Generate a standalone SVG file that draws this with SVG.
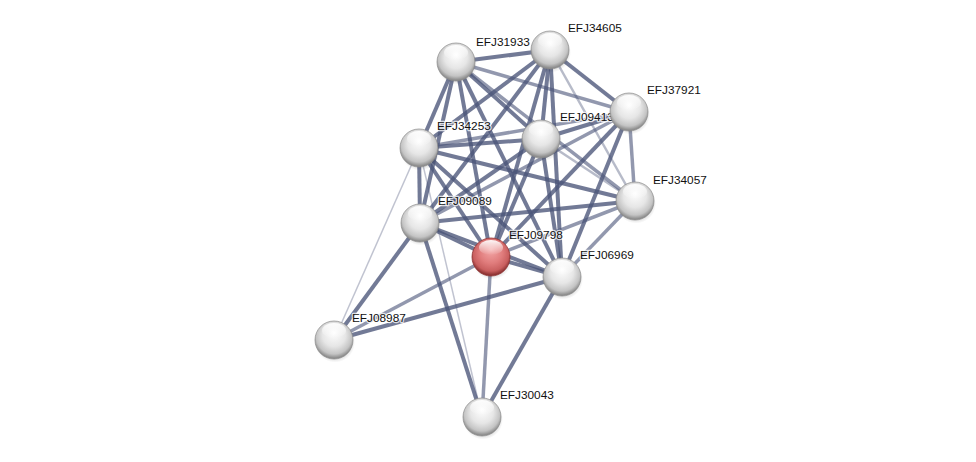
<svg xmlns="http://www.w3.org/2000/svg" width="976" height="462" viewBox="0 0 976 462">
<defs>
<radialGradient id="gGray" cx="50%" cy="42%" r="55%" fx="50%" fy="30%">
<stop offset="0%" stop-color="#ffffff"/>
<stop offset="55%" stop-color="#e6e6e6"/>
<stop offset="85%" stop-color="#c4c4c4"/>
<stop offset="100%" stop-color="#8e8e8e"/>
</radialGradient>
<radialGradient id="gRed" cx="50%" cy="42%" r="55%" fx="50%" fy="30%">
<stop offset="0%" stop-color="#f4a8a8"/>
<stop offset="55%" stop-color="#e07c7c"/>
<stop offset="85%" stop-color="#c95f5f"/>
<stop offset="100%" stop-color="#8f3434"/>
</radialGradient>
<linearGradient id="hl" x1="0" y1="0" x2="0" y2="1">
<stop offset="0%" stop-color="#ffffff" stop-opacity="0.95"/>
<stop offset="100%" stop-color="#ffffff" stop-opacity="0"/>
</linearGradient>
<radialGradient id="sh" cx="50%" cy="50%" r="50%">
<stop offset="60%" stop-color="#000" stop-opacity="0.25"/>
<stop offset="100%" stop-color="#000" stop-opacity="0"/>
</radialGradient>
<g id="ball">
<circle cx="1" cy="2.5" r="20" fill="url(#sh)"/>
<circle r="19" fill="url(#gGray)" stroke="#8a8a8a" stroke-width="0.7"/>
<ellipse cx="0" cy="-9.5" rx="12" ry="7.5" fill="url(#hl)"/>
</g>
<g id="ballRed">
<circle cx="1" cy="2.5" r="20" fill="url(#sh)"/>
<circle r="19" fill="url(#gRed)" stroke="#8f3434" stroke-width="0.8"/>
<ellipse cx="0" cy="-9.5" rx="12" ry="7.5" fill="url(#hl)"/>
</g>
</defs>
<style>
.e{fill:none;stroke:#4a5478;stroke-linecap:butt}
.s{stroke-width:4;stroke-opacity:0.78}
.m{stroke-width:3.5;stroke-opacity:0.6}
.l{stroke-width:2.5;stroke-opacity:0.4}
.t{stroke-width:1.5;stroke-opacity:0.35}
text{font-family:"Liberation Sans",Arial,sans-serif;font-size:11.8px;fill:#111;stroke:#ffffff;stroke-opacity:0.75;stroke-width:2.5px;paint-order:stroke;stroke-linejoin:round}
</style>
<rect width="976" height="462" fill="#ffffff"/>
<g id="edges">
<line class="e s" x1="456" y1="62" x2="550" y2="50"/>
<line class="e m" x1="456" y1="62" x2="629" y2="112"/>
<line class="e s" x1="456" y1="62" x2="419" y2="148"/>
<line class="e s" x1="456" y1="62" x2="541" y2="139"/>
<line class="e m" x1="456" y1="62" x2="635" y2="201"/>
<line class="e s" x1="456" y1="62" x2="420" y2="223"/>
<line class="e s" x1="456" y1="62" x2="491" y2="257"/>
<line class="e s" x1="456" y1="62" x2="562" y2="277"/>
<line class="e s" x1="550" y1="50" x2="629" y2="112"/>
<line class="e s" x1="550" y1="50" x2="419" y2="148"/>
<line class="e s" x1="550" y1="50" x2="541" y2="139"/>
<line class="e s" x1="550" y1="50" x2="420" y2="223"/>
<line class="e s" x1="550" y1="50" x2="491" y2="257"/>
<line class="e s" x1="550" y1="50" x2="562" y2="277"/>
<line class="e l" x1="550" y1="50" x2="635" y2="201"/>
<line class="e m" x1="629" y1="112" x2="419" y2="148"/>
<line class="e s" x1="629" y1="112" x2="541" y2="139"/>
<line class="e m" x1="629" y1="112" x2="635" y2="201"/>
<line class="e m" x1="629" y1="112" x2="420" y2="223"/>
<line class="e s" x1="629" y1="112" x2="491" y2="257"/>
<line class="e s" x1="629" y1="112" x2="562" y2="277"/>
<line class="e s" x1="419" y1="148" x2="541" y2="139"/>
<line class="e s" x1="419" y1="148" x2="635" y2="201"/>
<line class="e s" x1="419" y1="148" x2="420" y2="223"/>
<line class="e s" x1="419" y1="148" x2="491" y2="257"/>
<line class="e s" x1="419" y1="148" x2="562" y2="277"/>
<line class="e t" x1="419" y1="148" x2="334" y2="340"/>
<line class="e t" x1="419" y1="148" x2="482" y2="417"/>
<line class="e l" x1="541" y1="139" x2="635" y2="201"/>
<line class="e s" x1="541" y1="139" x2="420" y2="223"/>
<line class="e s" x1="541" y1="139" x2="491" y2="257"/>
<line class="e s" x1="541" y1="139" x2="562" y2="277"/>
<line class="e s" x1="635" y1="201" x2="420" y2="223"/>
<line class="e m" x1="635" y1="201" x2="491" y2="257"/>
<line class="e m" x1="635" y1="201" x2="562" y2="277"/>
<line class="e s" x1="420" y1="223" x2="491" y2="257"/>
<line class="e s" x1="420" y1="223" x2="562" y2="277"/>
<line class="e s" x1="420" y1="223" x2="334" y2="340"/>
<line class="e s" x1="420" y1="223" x2="482" y2="417"/>
<line class="e s" x1="491" y1="257" x2="562" y2="277"/>
<line class="e m" x1="491" y1="257" x2="334" y2="340"/>
<line class="e m" x1="491" y1="257" x2="482" y2="417"/>
<line class="e s" x1="562" y1="277" x2="334" y2="340"/>
<line class="e s" x1="562" y1="277" x2="482" y2="417"/>
</g>
<g id="EFJ31933"><use href="#ball" x="456" y="62"/><text x="476" y="46">EFJ31933</text></g>
<g id="EFJ34605"><use href="#ball" x="550" y="50"/><text x="568" y="32">EFJ34605</text></g>
<g id="EFJ34253"><use href="#ball" x="419" y="148"/><text x="437" y="130">EFJ34253</text></g>
<g id="EFJ09413"><use href="#ball" x="541" y="139"/><text x="560" y="121">EFJ09413</text></g>
<g id="EFJ37921"><use href="#ball" x="629" y="112"/><text x="647" y="94">EFJ37921</text></g>
<g id="EFJ34057"><use href="#ball" x="635" y="201"/><text x="653" y="184">EFJ34057</text></g>
<g id="EFJ09089"><use href="#ball" x="420" y="223"/><text x="438" y="205">EFJ09089</text></g>
<g id="EFJ09798"><use href="#ballRed" x="491" y="257"/><text x="509" y="239">EFJ09798</text></g>
<g id="EFJ06969"><use href="#ball" x="562" y="277"/><text x="580" y="259">EFJ06969</text></g>
<g id="EFJ08987"><use href="#ball" x="334" y="340"/><text x="352" y="322">EFJ08987</text></g>
<g id="EFJ30043"><use href="#ball" x="482" y="417"/><text x="500" y="399">EFJ30043</text></g>
</svg>
